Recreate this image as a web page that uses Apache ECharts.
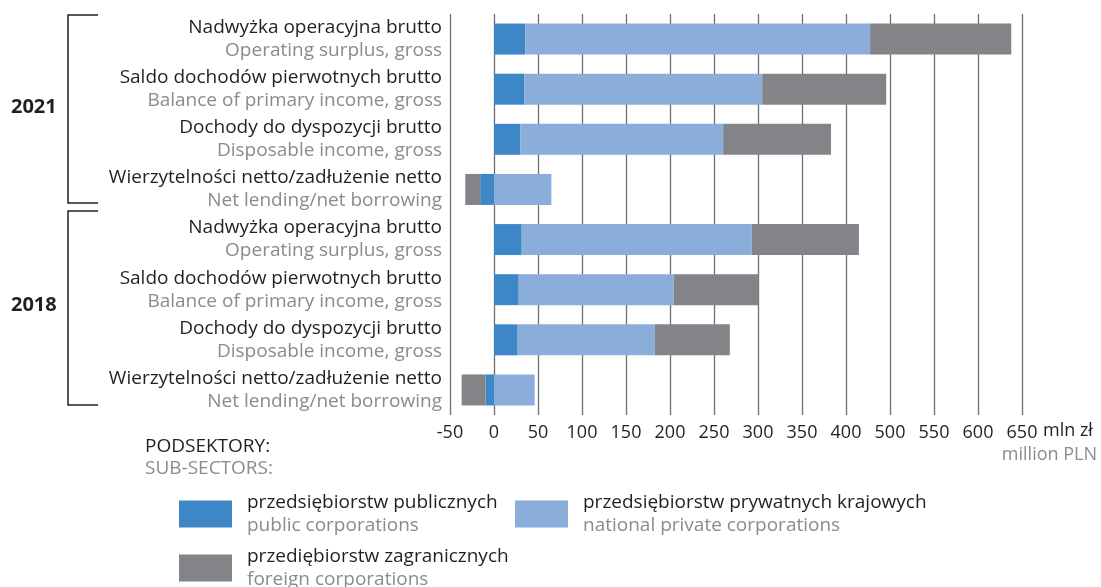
<!DOCTYPE html>
<html>
<head>
<meta charset="utf-8">
<script src="https://cdn.jsdelivr.net/npm/echarts@6/dist/echarts.min.js"></script>
<style>
  html, body { margin: 0; padding: 0; background: #fff; }
  #chart { width: 1101px; height: 587px; }
</style>
</head>
<body>
<div id="chart"></div>
<script>
// categories top to bottom (2021 block, then 2018 block)
const categories = ['2021-nob', '2021-sdp', '2021-ddb', '2021-wn', '2018-nob', '2018-sdp', '2018-ddb', '2018-wn'];
const labelsPl = [
  'Nadwyżka operacyjna brutto', 'Saldo dochodów pierwotnych brutto', 'Dochody do dyspozycji brutto', 'Wierzytelności netto/zadłużenie netto',
  'Nadwyżka operacyjna brutto', 'Saldo dochodów pierwotnych brutto', 'Dochody do dyspozycji brutto', 'Wierzytelności netto/zadłużenie netto'
];
const labelsEn = [
  'Operating surplus, gross', 'Balance of primary income, gross', 'Disposable income, gross', 'Net lending/net borrowing',
  'Operating surplus, gross', 'Balance of primary income, gross', 'Disposable income, gross', 'Net lending/net borrowing'
];

// values in axis units (the original axis skips the "450" label)
const publicCorp = [35.7, 34.3, 30.0, -15.7, 31.5, 28.1, 26.9, -9.5];
const privateCorp = [391.7, 270.5, 230.4, 65.2, 261.5, 176.2, 155.8, 46.2];
const foreignCorp = [160.4, 140.9, 122.6, -17.0, 121.7, 96.3, 85.3, -27.3];

const seriesPl = ['przedsiębiorstw publicznych', 'przedsiębiorstw prywatnych krajowych', 'przediębiorstw zagranicznych'];
const seriesEn = ['public corporations', 'national private corporations', 'foreign corporations'];

const xTicks = [-50, 0, 50, 100, 150, 200, 250, 300, 350, 400, 500, 550, 600, 650];

const FONT = '"Open Sans", sans-serif';
const DARK = '#231f20';
const GREY = '#898b8d';
const colors = ['#3d87c7', '#8aaed9', '#838487'];

const chart = echarts.init(document.getElementById('chart'));

const rich = {
  a: { fontFamily: FONT, fontSize: 19, color: DARK, lineHeight: 23, align: 'right' },
  b: { fontFamily: FONT, fontSize: 19, color: GREY, lineHeight: 23, align: 'right' }
};
const legendRich = {
  a: { fontFamily: FONT, fontSize: 19, color: DARK, lineHeight: 23, padding: [0, 0, 0, 10] },
  b: { fontFamily: FONT, fontSize: 19, color: GREY, lineHeight: 23, padding: [0, 0, 0, 10] }
};

function legendFor(i, left, top) {
  return {
    data: [seriesPl[i]],
    left: left, top: top,
    icon: 'rect', itemWidth: 53, itemHeight: 27,
    selectedMode: false,
    formatter: name => '{a|' + name + '}\n{b|' + seriesEn[seriesPl.indexOf(name)] + '}',
    textStyle: { rich: legendRich }
  };
}

chart.setOption({
  animation: false,
  backgroundColor: '#fff',
  textStyle: { fontFamily: FONT },
  grid: { left: 450, right: 79, top: 14, bottom: 172, containLabel: false },
  legend: [legendFor(0, 174, 488), legendFor(1, 510, 488), legendFor(2, 174, 542)],
  xAxis: {
    type: 'value', min: -50, max: 600, interval: 50,
    axisLine: { show: false }, axisTick: { show: false },
    splitLine: { show: true, lineStyle: { color: '#6d6e71', width: 1.3 } },
    axisLabel: {
      margin: 9, fontFamily: FONT, fontSize: 18, color: DARK,
      formatter: (v) => String(xTicks[Math.round((v + 50) / 50)])
    }
  },
  yAxis: {
    type: 'category', data: categories, inverse: true,
    axisLine: { show: false }, axisTick: { show: false },
    axisLabel: {
      margin: 8,
      formatter: (v, i) => '{a|' + labelsPl[i] + '}\n{b|' + labelsEn[i] + '}',
      rich: rich
    }
  },
  series: [
    { name: seriesPl[0], type: 'bar', stack: 'total', data: publicCorp, barWidth: 31, itemStyle: { color: colors[0] } },
    { name: seriesPl[1], type: 'bar', stack: 'total', data: privateCorp, barWidth: 31, itemStyle: { color: colors[1] } },
    { name: seriesPl[2], type: 'bar', stack: 'total', data: foreignCorp, barWidth: 31, itemStyle: { color: colors[2] } }
  ],
  graphic: [
    { type: 'polyline', shape: { points: [[98, 15], [68, 15], [68, 203], [98, 203]] }, style: { stroke: DARK, lineWidth: 1.5, fill: null } },
    { type: 'polyline', shape: { points: [[98, 211], [68, 211], [68, 405], [98, 405]] }, style: { stroke: DARK, lineWidth: 1.5, fill: null } },
    { type: 'text', left: 11, top: 97, style: { text: '2021', font: 'bold 20px ' + FONT, fill: DARK } },
    { type: 'text', left: 11, top: 295, style: { text: '2018', font: 'bold 20px ' + FONT, fill: DARK } },
    { type: 'text', left: 1043, top: 422, style: { text: 'mln zł', font: '18px ' + FONT, fill: DARK } },
    { type: 'text', right: 4, top: 446, style: { text: 'million PLN', font: '18px ' + FONT, fill: GREY } },
    { type: 'text', left: 145, top: 437, style: { text: 'PODSEKTORY:', font: '19px ' + FONT, fill: DARK } },
    { type: 'text', left: 145, top: 459, style: { text: 'SUB-SECTORS:', font: '19px ' + FONT, fill: GREY } }
  ]
});
</script>
</body>
</html>
